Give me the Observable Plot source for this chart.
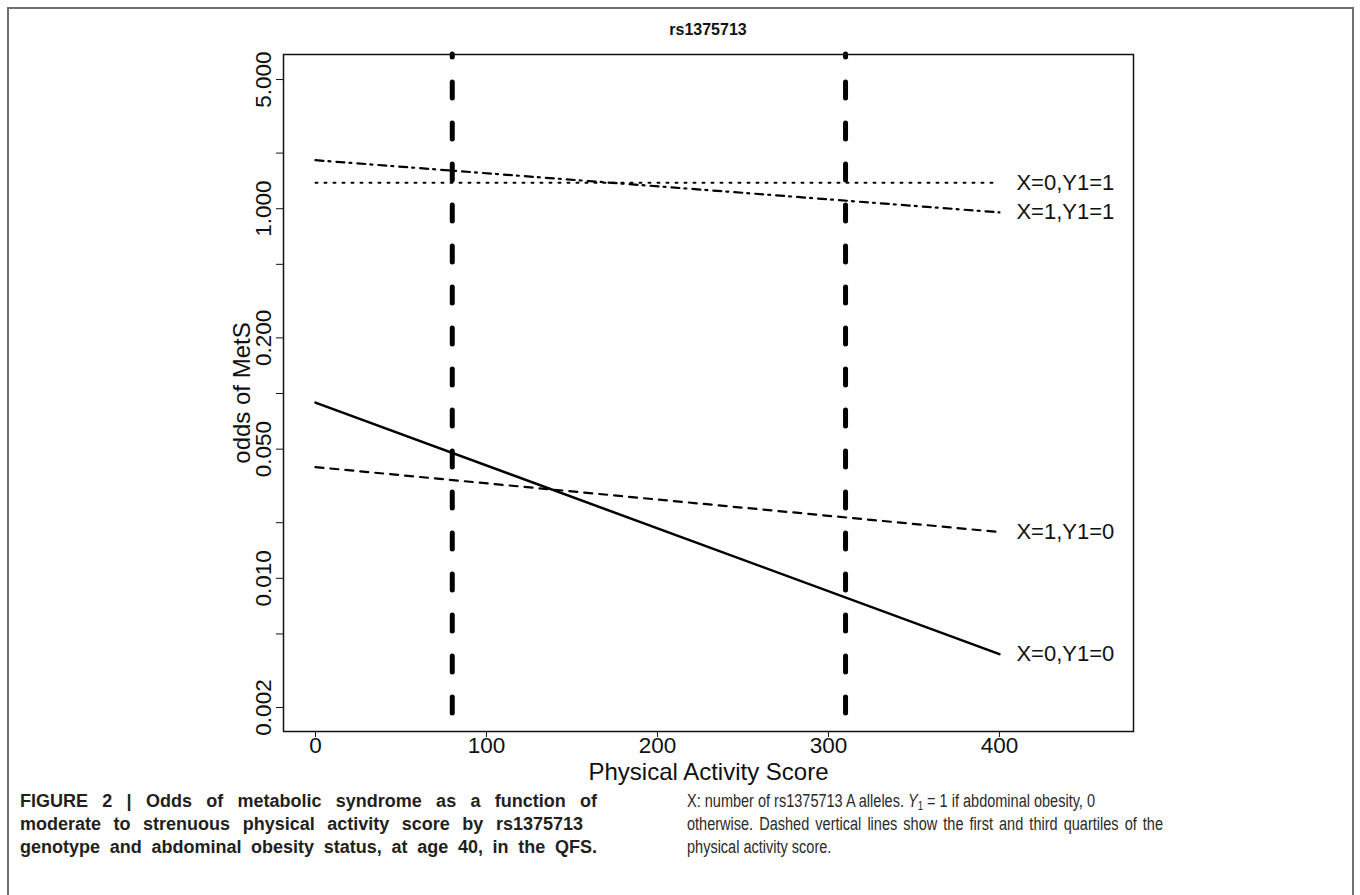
<!DOCTYPE html>
<html>
<head>
<meta charset="utf-8">
<script src="https://cdn.jsdelivr.net/npm/d3@7"></script>
<script src="https://cdn.jsdelivr.net/npm/@observablehq/plot@0.6"></script>
<style>
  body { margin: 0; background: #fff; }
  #wrap { position: relative; width: 1360px; height: 895px; overflow: hidden; font-family: "Liberation Sans", Arial, Helvetica, sans-serif; color: #111; }
  #border { position: absolute; left: 7px; top: 7px; width: 1347px; height: 1000px; border: 2px solid #707070; box-sizing: border-box; }
  #title { position: absolute; left: 283px; width: 850px; top: 20px; text-align: center; font-weight: bold; font-size: 16px; line-height: 20px; }
  #chart { position: absolute; left: 0; top: 0; }
  .cap { position: absolute; top: 790px; font-family: "Liberation Sans Narrow", "Liberation Sans", Arial, sans-serif; font-size: 18px; line-height: 23px; color: #231f20; }
  .cap .ln { white-space: nowrap; height: 23px; }
  .cap .ln span { display: inline-block; transform-origin: 0 50%; }
  #capL { left: 20px; font-weight: bold; }
  #capR { left: 687px; color: #2a2a2a; }
  sub { font-size: 12px; line-height: 0; vertical-align: -3px; }
</style>
</head>
<body>
<div id="wrap">
  <div id="border"></div>
  <div id="title"></div>
  <div id="chart"></div>
  <div class="cap" id="capL"></div>
  <div class="cap" id="capR"></div>
</div>
<script>
// ---- data ----
const chartTitle = "rs1375713";
const xLabel = "Physical Activity Score";
const yLabel = "odds of MetS";
const xTicks = [0, 100, 200, 300, 400];
const yTicks = [5, 2, 1, 0.5, 0.2, 0.1, 0.05, 0.02, 0.01, 0.005, 0.002];
const yLabeledTicks = [5, 1, 0.2, 0.05, 0.01, 0.002];
const yTickLabels = ["5.000", "1.000", "0.200", "0.050", "0.010", "0.002"];
const quartiles = [80, 310];
const seriesLabels = ["X=0,Y1=1", "X=1,Y1=1", "X=1,Y1=0", "X=0,Y1=0"];
const scoreEnds = [0, 400];
const oddsAtStart = [1.38, 1.83, 0.0400, 0.0893];
const oddsAtEnd = [1.38, 0.955, 0.0178, 0.00389];
const captionLeft = [
  "FIGURE 2 | Odds of metabolic syndrome as a function of",
  "moderate to strenuous physical activity score by rs1375713",
  "genotype and abdominal obesity status, at age 40, in the QFS."
];
const captionRight = [
  "X: number of rs1375713 A alleles. <i>Y</i><sub>1</sub> = 1 if abdominal obesity, 0",
  "otherwise. Dashed vertical lines show the first and third quartiles of the",
  "physical activity score."
];

// ---- styles / layout ----
const lineStyles = {
  "X=0,Y1=1": {strokeWidth: 2, strokeDasharray: "2,7"},
  "X=1,Y1=1": {strokeWidth: 2.2, strokeDasharray: "8,5,2,6"},
  "X=1,Y1=0": {strokeWidth: 2.2, strokeDasharray: "8,7"},
  "X=0,Y1=0": {strokeWidth: 2.5, strokeDasharray: null}
};
const capLeftWidths = [577, 563, 577];
const capRightWidths = [408, 476, null];

const rows = seriesLabels.flatMap((label, i) => [
  {label, score: scoreEnds[0], odds: oddsAtStart[i]},
  {label, score: scoreEnds[1], odds: oddsAtEnd[i]}
]);
const endRows = rows.filter(d => d.score === scoreEnds[1]);
const yLabelRows = yLabeledTicks.map((v, i) => ({v, t: yTickLabels[i]}));

const lineMarks = seriesLabels.map(label =>
  Plot.line(rows.filter(d => d.label === label), {
    x: "score", y: "odds", stroke: "#000",
    strokeWidth: lineStyles[label].strokeWidth,
    strokeDasharray: lineStyles[label].strokeDasharray
  })
);

const plot = Plot.plot({
  width: 1360,
  height: 790,
  marginLeft: 283,
  marginRight: 227,
  marginTop: 54,
  marginBottom: 59,
  style: {fontFamily: "'Liberation Sans', Arial, Helvetica, sans-serif", fontSize: "22px", color: "#111", background: "transparent", overflow: "visible"},
  x: {domain: [-18.7, 478.4], label: null},
  y: {type: "log", domain: [0.001483, 6.83], label: null},
  marks: [
    Plot.axisX({ticks: xTicks, tickSize: 6, tickPadding: 0, tickFormat: d => String(d), label: null, fontSize: 22.5, stroke: "#111"}),
    Plot.axisY({ticks: yTicks, tickSize: 7, tickFormat: () => "", label: null, stroke: "#111"}),
    Plot.text(yLabelRows, {y: "v", text: "t", frameAnchor: "left", rotate: -90, textAnchor: "middle", lineAnchor: "bottom", dx: -13, fontSize: 22.5, fill: "#111"}),
    Plot.ruleX(quartiles, {stroke: "#000", strokeWidth: 5, strokeDasharray: "16,25", strokeDashoffset: 13, strokeLinecap: "round"}),
    ...lineMarks,
    Plot.text(endRows, {x: "score", y: "odds", text: "label", dx: 17, textAnchor: "start", lineAnchor: "middle", fontSize: 22, fill: "#111"}),
    Plot.text([xLabel], {frameAnchor: "bottom", textAnchor: "middle", dy: 41, lineAnchor: "middle", fontSize: 24, fill: "#111"}),
    Plot.text([yLabel], {frameAnchor: "left", rotate: -90, textAnchor: "middle", dx: -41, lineAnchor: "middle", fontSize: 24, fill: "#111"}),
    Plot.frame({stroke: "#111", strokeWidth: 1.5})
  ]
});
document.getElementById("chart").appendChild(plot);
document.getElementById("title").textContent = chartTitle;

function fillCaption(id, lines, widths) {
  const box = document.getElementById(id);
  box.innerHTML = lines.map(s => `<div class="ln"><span>${s}</span></div>`).join("");
  const spans = Array.from(box.querySelectorAll(".ln span"));
  const natural = spans.map(sp => sp.getBoundingClientRect().width);
  // one common horizontal condensing factor so no fixed-width line overflows
  let scale = 1;
  natural.forEach((w, i) => { if (widths[i] && w > widths[i]) scale = Math.min(scale, widths[i] / w); });
  spans.forEach((sp, i) => {
    const target = widths[i];
    const words = sp.textContent.trim().split(/\s+/).length;
    const w = natural[i] * scale;
    if (scale < 1) sp.style.transform = `scaleX(${scale})`;
    if (target && w < target - 1 && words > 1) {
      sp.style.wordSpacing = ((target - w) / scale / (words - 1)) + "px";
    }
  });
}
fillCaption("capL", captionLeft, capLeftWidths);
fillCaption("capR", captionRight, capRightWidths);
</script>
</body>
</html>
